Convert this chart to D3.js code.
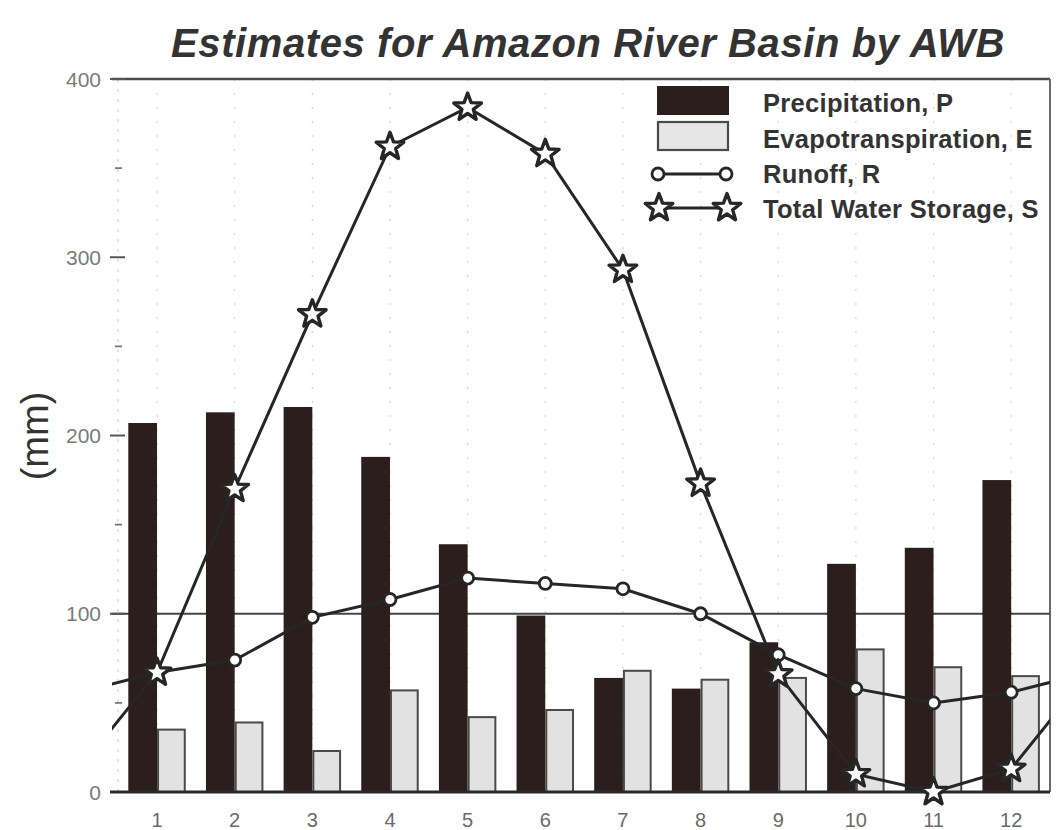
<!DOCTYPE html>
<html>
<head>
<meta charset="utf-8">
<script src="https://cdn.jsdelivr.net/npm/d3@7/dist/d3.min.js"></script>
<style>
  html, body { margin: 0; padding: 0; background: #fff; }
  svg { display: block; }
  text { font-family: "Liberation Sans", Arial, Helvetica, sans-serif; }
</style>
</head>
<body>
<svg id="chart" width="1056" height="830"></svg>
<script>
// ---- data ----
const months = [1, 2, 3, 4, 5, 6, 7, 8, 9, 10, 11, 12];
const monthLabels = ["1", "2", "3", "4", "5", "6", "7", "8", "9", "10", "11", "12"];
const precipitation = [207, 213, 216, 188, 139, 99, 64, 58, 84, 128, 137, 175];
const evapotranspiration = [35, 39, 23, 57, 42, 46, 68, 63, 64, 80, 70, 65];
const runoff = [67, 74, 98, 108, 120, 117, 114, 100, 77, 58, 50, 56];
const storage = [67, 170, 268, 362, 384, 358, 293, 173, 66, 10, 0, 13];
const yTicks = [0, 100, 200, 300, 400];
const yMinorTicks = [50, 150, 250, 350];
const legendLabels = ["Precipitation, P", "Evapotranspiration, E", "Runoff, R", "Total Water Storage, S"];
const titleText = "Estimates for Amazon River Basin by AWB";
const yLabel = "(mm)";

(function () {
// ---- layout ----
const svg = d3.select("#chart");
const pL = 112, pR = 1050, pT = 79, pB = 792;
const x = d3.scaleLinear().domain([0.42, 12.5]).range([pL, pR]);
const y = d3.scaleLinear().domain([0, 400]).range([pB, pT]);
const barW = x(1.37) - x(1);

const dark = "#2b1e1d";
const ink = "#262626";

// clip for lines
svg.append("defs").append("clipPath").attr("id", "plotclip")
  .append("rect").attr("x", pL).attr("y", pT - 20).attr("width", pR - pL).attr("height", pB - pT + 20);

// faint dotted vertical gridlines
svg.append("g").selectAll("line").data(months).join("line")
  .attr("x1", d => x(d)).attr("x2", d => x(d))
  .attr("y1", y(400)).attr("y2", y(0))
  .attr("stroke", "#d4d4d4").attr("stroke-width", 1.2)
  .attr("stroke-dasharray", "2,12");

// faint left spine
svg.append("line").attr("x1", pL + 6).attr("x2", pL + 6).attr("y1", pT).attr("y2", pB)
  .attr("stroke", "#cfcfcf").attr("stroke-width", 1.2).attr("stroke-dasharray", "3,7");

// frame: top line, right line
svg.append("line").attr("x1", pL).attr("x2", pR).attr("y1", y(400)).attr("y2", y(400))
  .attr("stroke", "#4a4a4a").attr("stroke-width", 2.5);
svg.append("line").attr("x1", pR).attr("x2", pR).attr("y1", y(400)).attr("y2", y(0))
  .attr("stroke", "#6a6a6a").attr("stroke-width", 2);

// reference line at 100
svg.append("line").attr("x1", pL).attr("x2", pR).attr("y1", y(100)).attr("y2", y(100))
  .attr("stroke", "#444").attr("stroke-width", 2);

// y axis ticks & labels
const yAxis = svg.append("g");
yAxis.selectAll("line.maj").data(yTicks).join("line").attr("class", "maj")
  .attr("x1", pL - 2).attr("x2", pL + 13).attr("y1", d => y(d)).attr("y2", d => y(d))
  .attr("stroke", "#555").attr("stroke-width", 2);
yAxis.selectAll("line.min").data(yMinorTicks).join("line").attr("class", "min")
  .attr("x1", pL + 3).attr("x2", pL + 10).attr("y1", d => y(d)).attr("y2", d => y(d))
  .attr("stroke", "#777").attr("stroke-width", 1.8);
yAxis.selectAll("text").data(yTicks).join("text")
  .attr("x", 101).attr("y", d => y(d)).attr("dy", "0.36em")
  .attr("text-anchor", "end").attr("font-size", 21).attr("fill", "#7a7a7a")
  .text(d => d);

// bars
svg.append("g").selectAll("rect").data(months).join("rect")
  .attr("x", (d) => x(d) - barW).attr("width", barW)
  .attr("y", (d, i) => y(precipitation[i])).attr("height", (d, i) => y(0) - y(precipitation[i]))
  .attr("fill", dark);
svg.append("g").selectAll("rect").data(months).join("rect")
  .attr("x", (d) => x(d) + 1).attr("width", barW - 2)
  .attr("y", (d, i) => y(evapotranspiration[i])).attr("height", (d, i) => y(0) - y(evapotranspiration[i]))
  .attr("fill", "#e2e2e2").attr("stroke", "#4a4a4a").attr("stroke-width", 2);

// bottom axis line
svg.append("line").attr("x1", pL - 2).attr("x2", pR).attr("y1", y(0)).attr("y2", y(0))
  .attr("stroke", "#2a2a2a").attr("stroke-width", 3);

// x labels
svg.append("g").selectAll("text").data(months).join("text")
  .attr("x", d => x(d)).attr("y", 827)
  .attr("text-anchor", "middle").attr("font-size", 20).attr("fill", "#6a6a6a")
  .text((d, i) => monthLabels[i]);

// lines (cyclic: previous December and following January carried to the edges)
function cyclic(values) {
  const pts = months.map((m, i) => [m, values[i]]);
  return [[0, values[values.length - 1]], ...pts, [13, values[0]]];
}
const lineGen = d3.line().x(d => x(d[0])).y(d => y(d[1]));
const linesG = svg.append("g").attr("clip-path", "url(#plotclip)");
linesG.append("path").datum(cyclic(runoff)).attr("d", lineGen)
  .attr("fill", "none").attr("stroke", ink).attr("stroke-width", 3);
linesG.append("path").datum(cyclic(storage)).attr("d", lineGen)
  .attr("fill", "none").attr("stroke", ink).attr("stroke-width", 3);

// star symbol
function starPath(R, r) {
  const p = [];
  for (let k = 0; k < 10; k++) {
    const a = -Math.PI / 2 + k * Math.PI / 5;
    const rad = k % 2 === 0 ? R : r;
    p.push([rad * Math.cos(a), rad * Math.sin(a)]);
  }
  return "M" + p.map(q => q[0].toFixed(2) + "," + q[1].toFixed(2)).join("L") + "Z";
}
const star = starPath(14.5, 6);

// markers
svg.append("g").selectAll("circle").data(months).join("circle")
  .attr("cx", d => x(d)).attr("cy", (d, i) => y(runoff[i])).attr("r", 6)
  .attr("fill", "#fff").attr("stroke", ink).attr("stroke-width", 2.8);
svg.append("g").selectAll("path").data(months).join("path")
  .attr("transform", (d, i) => `translate(${x(d)},${y(storage[i])})`)
  .attr("d", star).attr("fill", "#fff").attr("stroke", ink).attr("stroke-width", 3.4)
  .attr("stroke-linejoin", "round");

// legend
const lg = svg.append("g");
lg.append("rect").attr("x", 657).attr("y", 86).attr("width", 72).attr("height", 29).attr("fill", dark);
lg.append("rect").attr("x", 658).attr("y", 122).attr("width", 70).attr("height", 28)
  .attr("fill", "#e6e6e6").attr("stroke", "#4a4a4a").attr("stroke-width", 2.2);
lg.append("line").attr("x1", 658).attr("x2", 726).attr("y1", 174).attr("y2", 174)
  .attr("stroke", ink).attr("stroke-width", 3);
[658, 726].forEach(cx => lg.append("circle").attr("cx", cx).attr("cy", 174).attr("r", 6)
  .attr("fill", "#fff").attr("stroke", ink).attr("stroke-width", 2.8));
lg.append("line").attr("x1", 659).attr("x2", 727).attr("y1", 208).attr("y2", 208)
  .attr("stroke", ink).attr("stroke-width", 3);
[659, 727].forEach(cx => lg.append("path").attr("transform", `translate(${cx},208)`)
  .attr("d", star).attr("fill", "#fff").attr("stroke", ink).attr("stroke-width", 3.4)
  .attr("stroke-linejoin", "round"));
const legendY = [112, 148, 183, 218];
lg.selectAll("text").data(legendLabels).join("text")
  .attr("x", 763).attr("y", (d, i) => legendY[i])
  .attr("font-size", 25.5).attr("font-weight", "bold").attr("fill", "#333")
  .attr("letter-spacing", 0.3)
  .text(d => d);

// title
svg.append("text").attr("x", 588).attr("y", 57).attr("text-anchor", "middle")
  .attr("font-size", 40).attr("font-weight", "bold").attr("font-style", "italic")
  .attr("letter-spacing", 0.6).attr("fill", "#333")
  .text(titleText);

// y-axis label
svg.append("text").attr("transform", "translate(48,436) rotate(-90)")
  .attr("text-anchor", "middle").attr("font-size", 38).attr("fill", "#333")
  .text(yLabel);
})();
</script>
</body>
</html>
